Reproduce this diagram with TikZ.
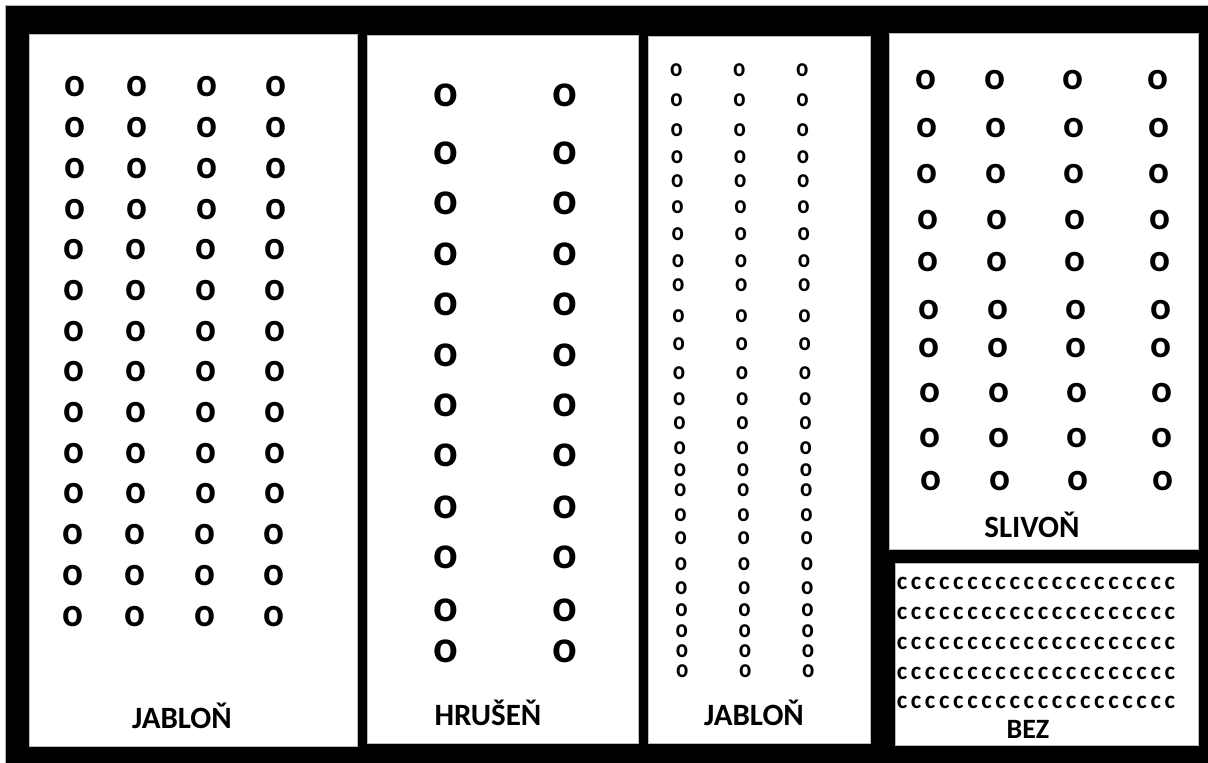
\documentclass[tikz,border=0pt]{standalone}
\usepackage{fontspec}
\setmainfont{Carlito}

\begin{document}
\begin{tikzpicture}[
  x=1pt, y=-1pt,
  bed/.style={fill=white, draw=gray!55, line width=0.8pt},
  tree/.style={inner sep=0pt, font=\bfseries\fontsize{#1}{#1}\selectfont},
  lbl/.style={inner sep=0pt, anchor=base, font=\bfseries\fontsize{#1}{#1}\selectfont}
]
  \useasboundingbox (0,0) rectangle (1208,763);
  \fill[white] (0,0) rectangle (1208,763);

  % Garden frame
  \fill[black, draw=gray!60, line width=0.6pt] (5,5) rectangle (1208,763);

  % Beds
  \filldraw[bed] (29,34)  rectangle (357,746);
  \filldraw[bed] (367,35) rectangle (638,743);
  \filldraw[bed] (648,36) rectangle (870,743);
  \filldraw[bed] (889,33) rectangle (1198,549);
  \filldraw[bed] (895,563) rectangle (1198,745);

  % Jablon, left bed
  \foreach \r in {0,...,13}
    \foreach \c/\xx in {1/75,2/137,3/207,4/276}
      \node[tree=41, xscale=0.95] (ja-\r-\c) at ({\xx-0.15*\r}, {87+40.7*\r}) {o};
  \node[lbl=31] (ja-name) at (182,728) {JABLOŇ};

  % Hrusen
  \foreach \yy [count=\i] in {95,153,203,254,304,355,405,455,507,557,610,651}
    \foreach \c/\xx in {1/446,2/565}
      \node[tree=46] (hr-\i-\c) at (\xx,\yy) {o};
  \node[lbl=31] (hr-name) at (488,725) {HRUŠEŇ};

  % Jablon, narrow bed
  \foreach \yy [count=\i] in {70,100,130,157,181,207,234,261,285,316,344,373,
                              399,423,448,470,490,515,538,564,588,610,631,651,671}
    \foreach \c/\xx in {1/676,2/739,3/802}
      \node[tree=26, xscale=0.88] (jb-\i-\c) at ({\xx+0.25*\i}, \yy) {o};
  \node[lbl=31] (jb-name) at (754,725) {JABLOŇ};

  % Slivon
  \foreach \yy [count=\i] in {80,128,174,220,262,310,348,393,438,481}
    \foreach \c/\xx in {1/926,2/995,3/1073,4/1158}
      \node[tree=39] (sl-\i-\c) at ({\xx+0.45*\i}, \yy) {o};
  \node[lbl=31] (sl-name) at (1032,537) {SLIVOŇ};

  % Bez
  \foreach \yy [count=\i] in {583,613,643,673,702}
    \foreach \c in {0,...,19}
      \node[tree=25] (bz-\i-\c) at ({902+14.1*\c}, \yy) {c};
  \node[lbl=28] (bz-name) at (1028,738) {BEZ};
\end{tikzpicture}
\end{document}
